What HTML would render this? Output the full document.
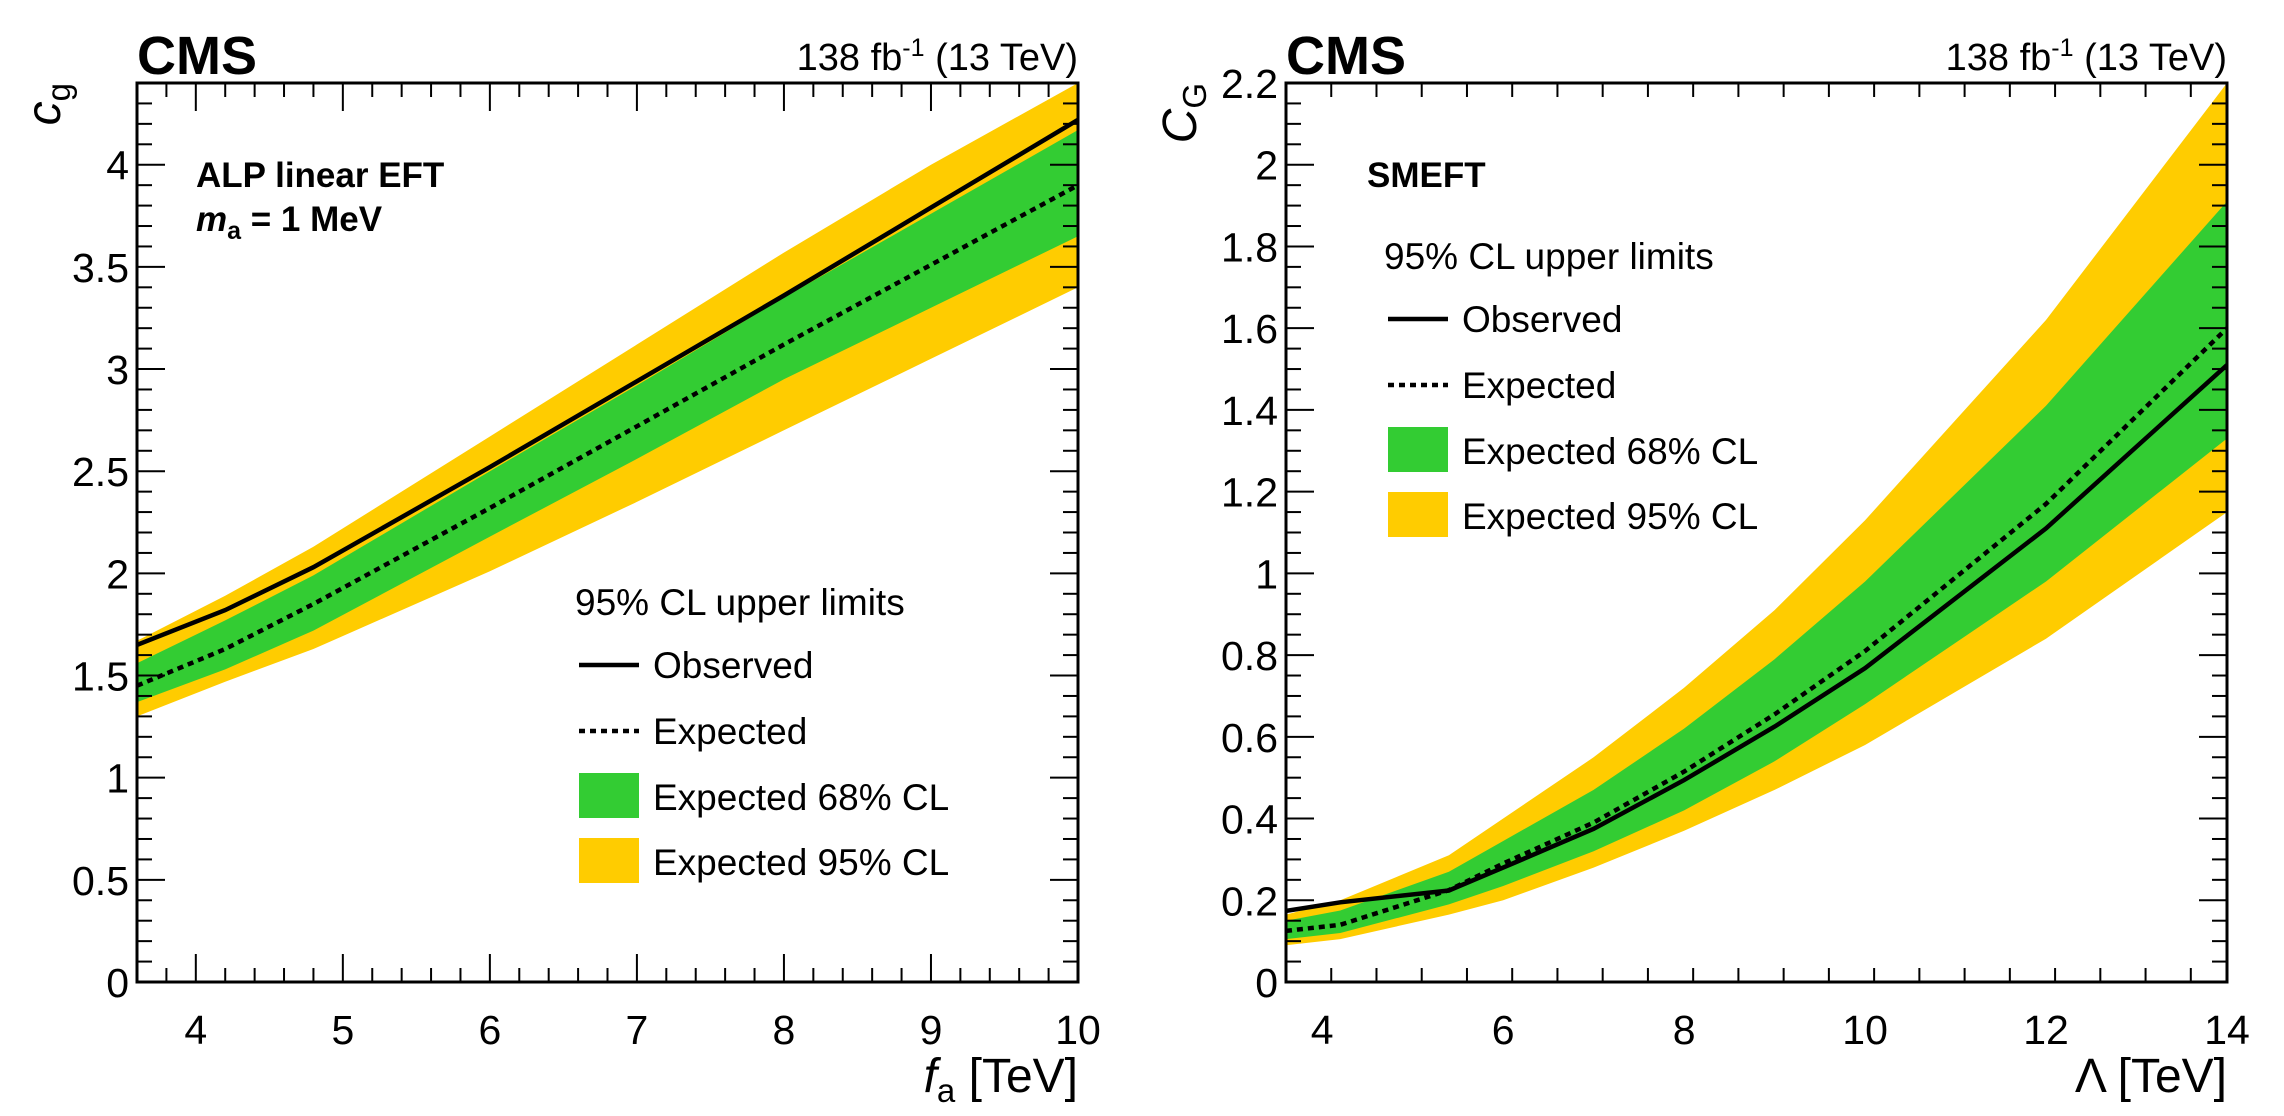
<!DOCTYPE html>
<html><head><meta charset="utf-8"><style>
html,body{margin:0;padding:0;background:#fff;}
svg{display:block;font-family:"Liberation Sans",Arial,sans-serif;}
</style></head><body>
<svg id="fig" width="2284" height="1116" viewBox="0 0 2284 1116" xmlns="http://www.w3.org/2000/svg"></svg>
<script>
// ---- Left panel data (f_a [TeV]) ----
const lX = [3.6, 4.2, 4.8, 6, 7, 8, 9, 10];
const lObs = [1.65, 1.82, 2.03, 2.52, 2.94, 3.36, 3.79, 4.22];
const lExp = [1.45, 1.63, 1.85, 2.32, 2.72, 3.12, 3.51, 3.90];
const lG_up = [1.56, 1.77, 1.99, 2.50, 2.92, 3.35, 3.76, 4.17];
const lG_lo = [1.37, 1.53, 1.72, 2.18, 2.56, 2.95, 3.30, 3.65];
const lY_up = [1.67, 1.89, 2.13, 2.67, 3.12, 3.57, 4.00, 4.40];
const lY_lo = [1.30, 1.47, 1.63, 2.01, 2.35, 2.70, 3.05, 3.40];
const lXTicks = [4, 5, 6, 7, 8, 9, 10];
const lYTicks = [0, 0.5, 1, 1.5, 2, 2.5, 3, 3.5, 4];
const lYLabels = ["0","0.5","1","1.5","2","2.5","3","3.5","4"];
// ---- Right panel data (Lambda [TeV]) ----
const rX = [3.6, 4.2, 5.4, 6, 7, 8, 9, 10, 12, 14];
const rObs = [0.174, 0.195, 0.224, 0.28, 0.375, 0.494, 0.625, 0.768, 1.11, 1.51];
const rExp = [0.125, 0.14, 0.225, 0.29, 0.39, 0.515, 0.655, 0.81, 1.17, 1.60];
const rG_up = [0.15, 0.175, 0.27, 0.345, 0.47, 0.62, 0.79, 0.98, 1.41, 1.91];
const rG_lo = [0.105, 0.12, 0.19, 0.235, 0.32, 0.42, 0.54, 0.68, 0.98, 1.33];
const rY_up = [0.165, 0.2, 0.31, 0.40, 0.55, 0.72, 0.91, 1.13, 1.62, 2.2];
const rY_lo = [0.09, 0.105, 0.165, 0.20, 0.28, 0.37, 0.47, 0.58, 0.84, 1.15];
const rXTicks = [4, 6, 8, 10, 12, 14];
const rYTicks = [0, 0.2, 0.4, 0.6, 0.8, 1, 1.2, 1.4, 1.6, 1.8, 2, 2.2];
const rYLabels = ["0","0.2","0.4","0.6","0.8","1","1.2","1.4","1.6","1.8","2","2.2"];

const NS = "http://www.w3.org/2000/svg";
const svg = document.getElementById("fig");
function el(tag, attrs, parent, text){
  const e = document.createElementNS(NS, tag);
  for (const k in attrs) e.setAttribute(k, attrs[k]);
  if (text !== undefined) e.textContent = text;
  (parent || svg).appendChild(e);
  return e;
}

function panel(cfg){
  const g = el("g", {});
  
  
  const L = cfg.left, R = cfg.right, T = 83, B = 982;
  const sx = v => L + (v - cfg.xmin) / (cfg.xmax - cfg.xmin) * (R - L);
  const sy = v => B - (v - cfg.ymin) / (cfg.ymax - cfg.ymin) * (B - T);
  const clip = "clip-" + cfg.name;
  const cp = el("clipPath", {id: clip}, g);
  el("rect", {x: L, y: T, width: R - L, height: B - T}, cp);
  const plot = el("g", {"clip-path": "url(#" + clip + ")"}, g);
  function band(xs, lo, hi, color, name){
    let d = "";
    xs.forEach((x, i) => d += (i ? "L" : "M") + sx(x).toFixed(1) + "," + sy(hi[i]).toFixed(1));
    for (let i = xs.length - 1; i >= 0; i--) d += "L" + sx(xs[i]).toFixed(1) + "," + sy(lo[i]).toFixed(1);
    const p = el("path", {d: d + "Z", fill: color}, plot);
    
    
  }
  function line(xs, ys, dash, name){
    const pts = xs.map((x, i) => sx(x).toFixed(1) + "," + sy(ys[i]).toFixed(1)).join(" ");
    const p = el("polyline", {points: pts, fill: "none", stroke: "#000", "stroke-width": 4.5, "stroke-dasharray": dash || "none"}, plot);
    
    
  }
  band(cfg.x, cfg.ylo, cfg.yup, "#ffcc00", "expected-95-band");
  band(cfg.x, cfg.glo, cfg.gup, "#33cc33", "expected-68-band");
  line(cfg.x, cfg.exp, "6,5", "expected-line");
  line(cfg.x, cfg.obs, null, "observed-line");
  const fr = el("rect", {x: L, y: T, width: R - L, height: B - T, fill: "none", stroke: "#000", "stroke-width": 3}, g);
  
  
  const xa = el("g", {stroke: "#000", "stroke-width": 2}, g);
  
  
  for (let v = cfg.xmin; v <= cfg.xmax + 1e-6; v += cfg.xminor){
    const vv = Math.round(v * 1000) / 1000;
    const major = cfg.xTicks.some(t => Math.abs(t - vv) < 1e-6);
    const len = major ? 28 : 14;
    const x = sx(vv);
    el("line", {x1: x, x2: x, y1: B, y2: B - len}, xa);
    el("line", {x1: x, x2: x, y1: T, y2: T + len}, xa);
  }
  cfg.xTicks.forEach(t => {
    const tx = el("text", {x: sx(t), y: B + 62, "font-size": 41, "text-anchor": "middle"}, g, String(t));
    
    
  });
  const ya = el("g", {stroke: "#000", "stroke-width": 2}, g);
  
  
  for (let v = cfg.ymin; v <= cfg.ymax + 1e-6; v += cfg.yminor){
    const vv = Math.round(v * 1000) / 1000;
    const major = cfg.yTicks.some(t => Math.abs(t - vv) < 1e-6);
    const len = major ? 28 : 15;
    const y = sy(vv);
    el("line", {x1: L, x2: L + len, y1: y, y2: y}, ya);
    el("line", {x1: R, x2: R - len, y1: y, y2: y}, ya);
  }
  cfg.yTicks.forEach((t, i) => {
    const ty = el("text", {x: L - 8, y: sy(t) + 15, "font-size": 41, "text-anchor": "end"}, g, cfg.yLabels[i]);
    
    
  });
  const cms = el("text", {x: L, y: 74, "font-size": 54, "font-weight": "bold"}, g, "CMS");
  
  
  const lumi = el("text", {x: R, y: 70, "font-size": 38, "text-anchor": "end"}, g);
  
  
  el("tspan", {}, lumi, "138 fb");
  el("tspan", {dy: -14, "font-size": 25}, lumi, "-1");
  el("tspan", {dy: 14}, lumi, " (13 TeV)");
  const lg = el("g", {"font-size": 37}, g);
  
  
  const lx = cfg.legX, ly = cfg.legY;
  el("text", {x: lx - 4, y: ly}, lg, "95% CL upper limits");
  el("line", {x1: lx, x2: lx + 60, y1: ly + 50, y2: ly + 50, stroke: "#000", "stroke-width": 4.5}, lg);
  el("text", {x: lx + 74, y: ly + 63}, lg, "Observed");
  el("line", {x1: lx, x2: lx + 60, y1: ly + 116, y2: ly + 116, stroke: "#000", "stroke-width": 4.5, "stroke-dasharray": "6,5"}, lg);
  el("text", {x: lx + 74, y: ly + 129}, lg, "Expected");
  el("rect", {x: lx, y: ly + 158, width: 60, height: 45, fill: "#33cc33"}, lg);
  el("text", {x: lx + 74, y: ly + 195}, lg, "Expected 68% CL");
  el("rect", {x: lx, y: ly + 223, width: 60, height: 45, fill: "#ffcc00"}, lg);
  el("text", {x: lx + 74, y: ly + 260}, lg, "Expected 95% CL");
  return {g, L, R, T, B};
}

const P1 = panel({name: "left-panel", left: 137, right: 1078, xmin: 3.6, xmax: 10, ymin: 0, ymax: 4.4,
  xminor: 0.2, yminor: 0.1, xTicks: lXTicks, yTicks: lYTicks, yLabels: lYLabels,
  x: lX, obs: lObs, exp: lExp, gup: lG_up, glo: lG_lo, yup: lY_up, ylo: lY_lo, legX: 579, legY: 615});
const P2 = panel({name: "right-panel", left: 1286, right: 2227, xmin: 3.6, xmax: 14, ymin: 0, ymax: 2.2,
  xminor: 0.5, yminor: 0.05, xTicks: rXTicks, yTicks: rYTicks, yLabels: rYLabels,
  x: rX, obs: rObs, exp: rExp, gup: rG_up, glo: rG_lo, yup: rY_up, ylo: rY_lo, legX: 1388, legY: 269});

const a1 = el("text", {x: 196, y: 187, "font-size": 35, "font-weight": "bold"}, P1.g, "ALP linear EFT");


const a2 = el("text", {x: 196, y: 231, "font-size": 35, "font-weight": "bold"}, P1.g);


el("tspan", {"font-style": "italic"}, a2, "m");
el("tspan", {dy: 8, "font-size": 25}, a2, "a");
el("tspan", {dy: -8}, a2, " = 1 MeV");
const a3 = el("text", {x: 1367, y: 187, "font-size": 35, "font-weight": "bold"}, P2.g, "SMEFT");



const xt1 = el("text", {x: 1078, y: 1092, "font-size": 48, "text-anchor": "end"}, P1.g);


el("tspan", {"font-style": "italic"}, xt1, "f");
el("tspan", {dy: 10, "font-size": 33}, xt1, "a");
el("tspan", {dy: -10}, xt1, " [TeV]");
const xt2 = el("text", {x: 2227, y: 1092, "font-size": 48, "text-anchor": "end"}, P2.g, "\u039B [TeV]");


const yt1 = el("text", {x: 0, y: 0, "font-size": 48, "text-anchor": "end", transform: "translate(60,83) rotate(-90)"}, P1.g);


el("tspan", {"font-style": "italic"}, yt1, "c");
el("tspan", {dy: 10, "font-size": 33}, yt1, "g");
const yt2 = el("text", {x: 0, y: 0, "font-size": 48, "text-anchor": "end", transform: "translate(1196,83) rotate(-90)"}, P2.g);


el("tspan", {"font-style": "italic"}, yt2, "C");
el("tspan", {dy: 10, "font-size": 33}, yt2, "G");
</script>
</body></html>
